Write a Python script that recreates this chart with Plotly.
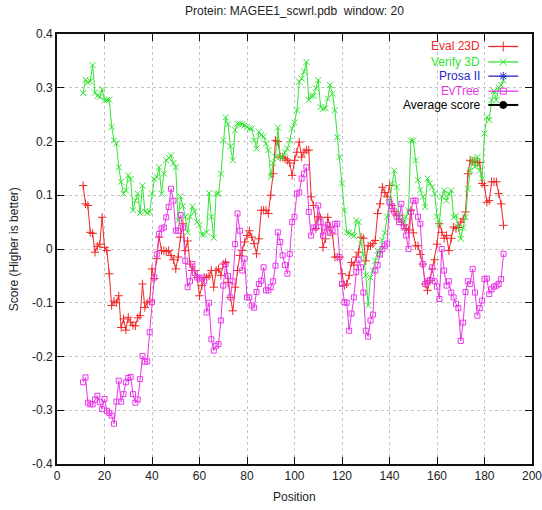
import plotly.graph_objects as go

# ---------------- data ----------------
eval23d = [
    0.118, 0.084, 0.081, 0.031, 0.029, -0.006, 0.005, 0.009, 0.059, 0.003,
    -0.003, -0.046, -0.105, -0.097, -0.1, -0.087, -0.146, -0.13, -0.151,
    -0.127, -0.136, -0.142, -0.143, -0.128, -0.124, -0.065, -0.109, -0.1, -0.097,
    -0.037, -0.055, -0.018, 0.022, -0.003, -0.003, -0.005, -0.003, -0.012, -0.02,
    -0.037, -0.015, 0.022, 0.047, -0.003, 0.015, -0.028, -0.04, -0.04,
    -0.053, -0.087, -0.068, -0.053, -0.053, -0.05, -0.04, -0.071, -0.04, -0.037,
    -0.049, -0.028, -0.025, -0.062, -0.09, -0.115, -0.071, -0.04, -0.012,
    -0.003, 0.013, 0.025, 0.034, 0.022, 0.01, -0.009, 0.019, 0.072, 0.072,
    0.072, 0.066, 0.1, 0.14, 0.202, 0.2, 0.171, 0.171, 0.168, 0.165,
    0.16, 0.137, 0.165, 0.18, 0.199, 0.171, 0.18, 0.184, 0.184,
    0.097, 0.081, 0.038, 0.06, 0.058, 0.003, 0.019, 0.059, 0.041, 0.028,
    -0.015, -0.015, -0.015, -0.046, -0.068, -0.065, -0.049, -0.025, -0.03,
    -0.015, -0.006, 0.022, 0.02, -0.022, 0.006, 0.006, 0.01, 0.016, 0.066,
    0.084, 0.115, 0.105, 0.097, 0.118, 0.081, 0.07, 0.062, 0.062, 0.05,
    0.045, 0.038, 0.035, 0.072, 0.03, 0.006, 0.006, -0.01, -0.028,
    -0.065, -0.077, -0.059, -0.037, -0.02, 0.009, 0.047, 0.031, 0.02, 0.025,
    -0.003, 0.02, 0.041, 0.038, 0.04, 0.05, 0.056, 0.069, 0.14,
    0.165, 0.163, 0.163, 0.161, 0.161, 0.122, 0.118, 0.087, 0.09, 0.125,
    0.125, 0.125, 0.103, 0.084, 0.044,
]

verify3d = [
    0.29, 0.315, 0.31, 0.312, 0.342, 0.291, 0.285, 0.283, 0.297, 0.277,
    0.277, 0.278, 0.227, 0.202, 0.196, 0.152, 0.125, 0.103, 0.109,
    0.137, 0.13, 0.072, 0.09, 0.103, 0.067, 0.118, 0.07, 0.067, 0.069,
    0.103, 0.13, 0.134, 0.152, 0.103, 0.14, 0.165, 0.17, 0.174, 0.16,
    0.152, 0.053, 0.098, 0.08, 0.06, 0.031, 0.06, 0.079, 0.07,
    0.05, 0.045, 0.027, 0.027, 0.031, 0.104, 0.06, 0.021, 0.103, 0.103,
    0.14, 0.202, 0.245, 0.232, 0.191, 0.165, 0.221, 0.233, 0.233,
    0.232, 0.23, 0.227, 0.224, 0.224, 0.202, 0.187, 0.218, 0.212, 0.209,
    0.196, 0.184, 0.134, 0.16, 0.171, 0.226, 0.171, 0.17, 0.18, 0.187,
    0.202, 0.224, 0.235, 0.258, 0.311, 0.317, 0.33, 0.348, 0.277,
    0.285, 0.285, 0.299, 0.314, 0.264, 0.261, 0.262, 0.28, 0.305, 0.289,
    0.258, 0.208, 0.171, 0.122, 0.072, 0.031, 0.03, 0.027, 0.024,
    0.053, 0.05, 0.01, -0.01, -0.049, -0.105, -0.053, -0.04, -0.022, -0.003,
    -0.01, 0.016, 0.03, 0.06, 0.09, 0.122, 0.146, 0.115, 0.059, 0.055,
    0.05, 0.06, 0.072, 0.202, 0.202, 0.165, 0.128, 0.11, 0.097,
    0.078, 0.131, 0.122, 0.115, 0.103, 0.06, 0.047, 0.097, 0.109, 0.09,
    0.103, 0.109, 0.059, 0.062, 0.04, 0.019, 0.04, 0.059, 0.112,
    0.146, 0.168, 0.153, 0.171, 0.146, 0.131, 0.215, 0.245, 0.24, 0.277,
    0.294, 0.277, 0.3, 0.305, 0.314,
]

evtree = [
    -0.248, -0.239, -0.286, -0.289, -0.289, -0.28, -0.273, -0.285, -0.298, -0.279,
    -0.301, -0.305, -0.31, -0.325, -0.284, -0.245, -0.284, -0.27, -0.248,
    -0.24, -0.238, -0.27, -0.286, -0.28, -0.242, -0.199, -0.21, -0.209, -0.155,
    -0.099, -0.053, -0.01, 0.028, 0.038, 0.04, 0.059, 0.078, 0.112, 0.09,
    0.034, 0.034, 0.063, 0.04, -0.022, -0.071, -0.06, -0.028, -0.045,
    -0.053, -0.055, -0.053, -0.06, -0.118, -0.1, -0.168, -0.189, -0.18, -0.177,
    -0.133, -0.068, -0.028, -0.05, -0.09, -0.06, 0.009, 0.066, 0.034,
    -0.04, -0.018, -0.09, -0.09, -0.105, -0.109, -0.08, -0.065, -0.059, -0.034,
    -0.077, -0.077, -0.071, -0.06, -0.031, 0.031, 0.013, -0.012, -0.03, -0.046,
    -0.009, 0.05, 0.06, 0.103, 0.105, 0.131, 0.14, 0.152, 0.069,
    0.025, 0.04, 0.04, 0.081, 0.05, 0.025, 0.04, 0.045, 0.03, 0.035,
    0.047, 0.047, -0.015, -0.065, -0.099, -0.1, -0.152, -0.12, -0.09,
    -0.043, -0.02, -0.034, -0.081, -0.152, -0.163, -0.133, -0.122, -0.04, -0.03,
    -0.01, 0.0, 0.006, 0.01, 0.087, 0.08, 0.07, 0.06, 0.05, 0.084,
    0.04, 0.025, 0.0, 0.069, 0.09, 0.09, 0.06, 0.047, -0.028,
    -0.065, -0.06, -0.058, -0.034, -0.06, -0.07, -0.093, 0.0, -0.04, -0.068,
    -0.06, -0.081, -0.09, -0.102, -0.11, -0.171, -0.137, -0.08, -0.06,
    -0.065, -0.037, -0.081, -0.124, -0.11, -0.096, -0.056, -0.055, -0.084, -0.075,
    -0.07, -0.068, -0.065, -0.056, -0.009,
]

prosa2 = []          # no values in the picture
average_score = []   # no values in the picture

first_position = 11

series_names = ["Eval 23D", "Verify 3D", "Prosa II", "EvTree", "Average score"]
x_ticks = [0, 20, 40, 60, 80, 100, 120, 140, 160, 180, 200]
y_ticks = [-0.4, -0.3, -0.2, -0.1, 0, 0.1, 0.2, 0.3, 0.4]
y_ticktext = ["-0.4", "-0.3", "-0.2", "-0.1", "0", "0.1", "0.2", "0.3", "0.4"]

# ---------------- styles ----------------
FONT = "Liberation Sans, Arial, sans-serif"
colors = ["#f02828", "#33e433", "#2828c8", "#e838e8", "#000000"]
symbols = ["cross-thin-open", "x-thin-open", "asterisk-open", "square-open", "circle"]
msizes = [6, 6, 6, 5, 6]

all_series = [eval23d, verify3d, prosa2, evtree, average_score]

fig = go.Figure()

for name, vals, col, sym, ms in zip(series_names, all_series, colors, symbols, msizes):
    xs = list(range(first_position, first_position + len(vals)))
    fig.add_trace(go.Scatter(
        x=xs, y=vals, mode="lines+markers", name=name,
        line=dict(color=col, width=1),
        marker=dict(symbol=sym, size=ms, color=col, line=dict(color=col, width=1)),
        showlegend=False, hoverinfo="skip",
    ))

# ---- gnuplot-like key (text right-aligned, sample on the right) ----
key_rows_y = [0.971, 0.935, 0.902, 0.867, 0.835]
key_text_x = 0.895
key_line_x = [0.908, 0.971]
key_mark_x = 0.9395

for name, col, sym, ms, ky in zip(series_names, colors, symbols, msizes, key_rows_y):
    fig.add_trace(go.Scatter(
        x=key_line_x, y=[ky, ky], mode="lines", xaxis="x2", yaxis="y2",
        line=dict(color=col, width=1.3 if col != "#000000" else 2),
        showlegend=False, hoverinfo="skip",
    ))
    fig.add_trace(go.Scatter(
        x=[key_mark_x], y=[ky], mode="markers", xaxis="x2", yaxis="y2",
        marker=dict(symbol=sym, size=ms + 1, color=col, line=dict(color=col, width=1)),
        showlegend=False, hoverinfo="skip",
    ))
    fig.add_annotation(
        x=key_text_x, y=ky, xref="paper", yref="paper", text=name,
        showarrow=False, xanchor="right", yanchor="middle",
        font=dict(family=FONT, size=12, color=col),
    )

# opaque key background (hides the grid under the key text)
fig.add_shape(type="rect", xref="paper", yref="paper",
              x0=0.72, x1=0.995, y0=0.815, y1=0.995,
              fillcolor="white", line=dict(width=0), layer="between")

# axis titles as annotations
fig.add_annotation(x=0.5, y=-0.077, xref="paper", yref="paper", text="Position",
                   showarrow=False, xanchor="center", yanchor="middle",
                   font=dict(family=FONT, size=12, color="#222222"))
fig.add_annotation(x=-0.09, y=0.5, xref="paper", yref="paper",
                   text="Score (Higher is better)", textangle=-90,
                   showarrow=False, xanchor="center", yanchor="middle",
                   font=dict(family=FONT, size=12, color="#222222"))

axis_common = dict(
    showline=True, linecolor="#111111", linewidth=1.6, mirror="ticks",
    ticks="inside", ticklen=7, tickwidth=1, tickcolor="#111111",
    showgrid=True, gridcolor="#c4c4c4", gridwidth=1, griddash="dot",
    zeroline=False, tickfont=dict(family=FONT, size=12, color="#222222"),
    automargin=False, ticklabeloverflow="allow",
)

fig.update_layout(
    width=542, height=510, autosize=False,
    margin=dict(l=57, r=10, t=34, b=46),
    paper_bgcolor="white", plot_bgcolor="white",
    title=dict(text="Protein: MAGEE1_scwrl.pdb  window: 20",
               x=0.5, xref="paper", xanchor="center",
               y=1 - 11 / 510, yref="container", yanchor="middle",
               font=dict(family=FONT, size=12, color="#222222")),
    xaxis=dict(range=[0, 200], tickvals=x_ticks, **axis_common),
    yaxis=dict(range=[-0.4, 0.4], tickvals=y_ticks, ticktext=y_ticktext, **axis_common),
    xaxis2=dict(range=[0, 1], overlaying="x", visible=False, fixedrange=True),
    yaxis2=dict(range=[0, 1], overlaying="y", visible=False, fixedrange=True),
    showlegend=False,
)

fig.write_html("out.html")
